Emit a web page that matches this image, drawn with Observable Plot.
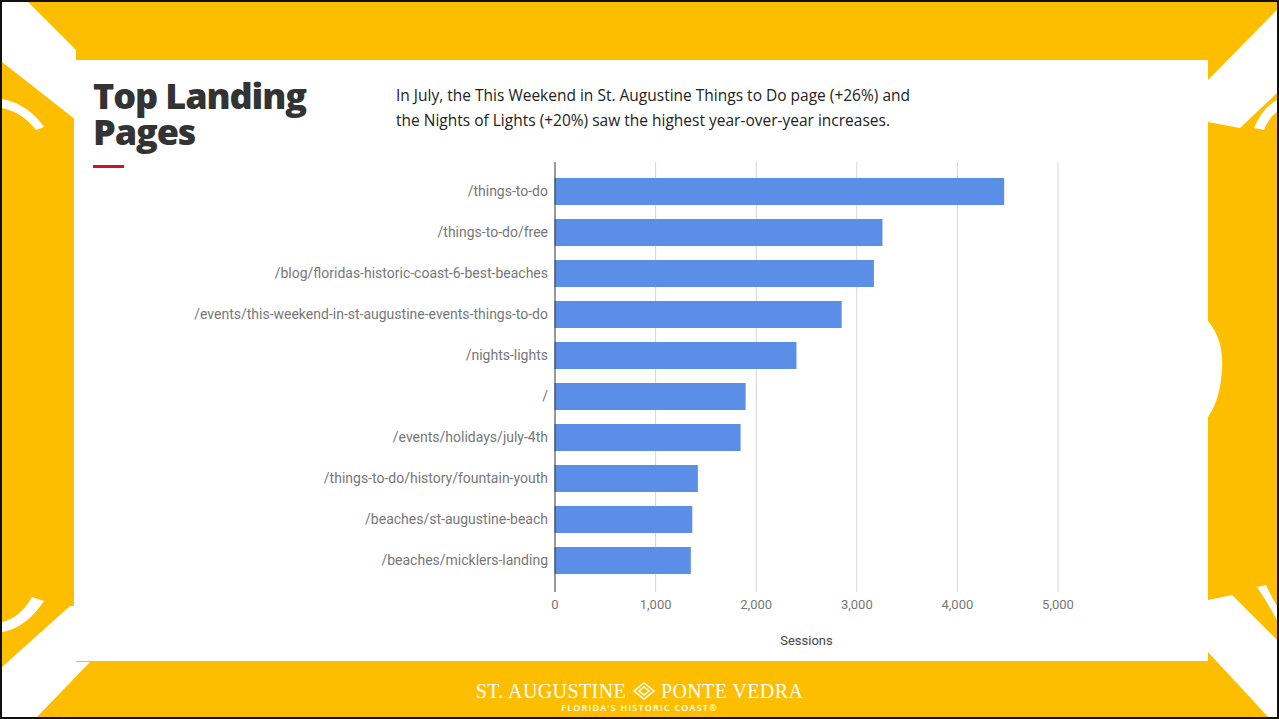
<!DOCTYPE html>
<html>
<head>
<meta charset="utf-8">
<script src="https://cdn.jsdelivr.net/npm/d3@7"></script>
<script src="https://cdn.jsdelivr.net/npm/@observablehq/plot@0.6"></script>
<style>
  html, body { margin: 0; padding: 0; background: #fff; }
  #frame { position: relative; width: 1279px; height: 719px; background: #FEBE00; box-sizing: border-box; border: 2px solid #111; overflow: hidden; }
  #deco { position: absolute; left: -2px; top: -2px; }
  #panel { position: absolute; left: 72px; top: 58px; width: 1134px; height: 601px; background: #fff; }
  .title { position: absolute; left: 91px; font-family: "Open Sans", sans-serif; font-weight: 800; font-size: 36px; line-height: 33px; height: 33px; color: #333; letter-spacing: -1.1px; white-space: nowrap; }
  #redbar { position: absolute; left: 91px; top: 163px; width: 31px; height: 3px; background: #d0112b; }
  #subtitle { position: absolute; left: 394px; top: 81px; font-family: "Open Sans", sans-serif; font-size: 15.5px; line-height: 25px; color: #222; white-space: nowrap; }
  #chart { position: absolute; left: 72px; top: 148px; }
  #logo1 { position: absolute; left: 0; width: 1275px; top: 678px; text-align: center; font-family: "Liberation Serif", serif; font-size: 20px; color: #fff; letter-spacing: 0.4px; }
  #logo2 { position: absolute; left: 0; width: 1275px; top: 699px; text-align: center; font-family: "Open Sans", sans-serif; font-size: 9px; font-weight: 600; color: #fff; letter-spacing: 1.2px; }
</style>
</head>
<body>
<div id="frame">
  <svg id="deco" width="1279" height="719">
    <g fill="#fff">
      <polygon points="2,2 28,2 76,50 76,120 2,62"/>
      <path d="M2,99 Q28,104 44,127 L36,130 Q22,112 2,108 Z"/>
      <polygon points="2,667 70,606 76,606 76,662 90,662 35,719 2,719"/>
      <path d="M2,632 Q26,628 44,601 L32,597 Q20,618 2,622 Z"/>
      <polygon points="1277,10 1277,93 1240,128 1208,122 1208,80"/>
      <path d="M1277,100 Q1262,108 1254,128 L1264,130 Q1270,116 1277,112 Z"/>
      <polygon points="1208,600 1232,595 1277,640 1277,719 1270,719 1208,652"/>
      <path d="M1277,620 Q1266,600 1257,587 L1266,585 Q1272,598 1277,606 Z"/>
      <path d="M1208,321 Q1224,340 1222,370 Q1220,400 1208,417 Z"/>
    </g>
  </svg>
  <div id="panel"></div>
  <div class="title" style="top:77px">Top Landing</div>
  <div class="title" style="top:113px">Pages</div>
  <div id="redbar"></div>
  <div id="subtitle">In July, the This Weekend in St. Augustine Things to Do page (+26%) and<br>the Nights of Lights (+20%) saw the highest year-over-year increases.</div>
  <div id="chart"></div>
  <div id="logo1">ST. AUGUSTINE <svg width="24" height="18" viewBox="0 0 24 18" style="vertical-align:-2px"><g fill="none" stroke="#fff" stroke-width="1.5"><polygon points="12,1 22,9 12,17 2,9"/><polygon points="12,5 17,9 12,13 7,9"/></g></svg> PONTE VEDRA</div>
  <div id="logo2">FLORIDA'S HISTORIC COAST®</div>
</div>
<script>
const pages = [
  "/things-to-do",
  "/things-to-do/free",
  "/blog/floridas-historic-coast-6-best-beaches",
  "/events/this-weekend-in-st-augustine-events-things-to-do",
  "/nights-lights",
  "/",
  "/events/holidays/july-4th",
  "/things-to-do/history/fountain-youth",
  "/beaches/st-augustine-beach",
  "/beaches/micklers-landing"
];
const sessions = [4470, 3260, 3175, 2855, 2405, 1900, 1850, 1425, 1370, 1355];
const xTicks = [0, 1000, 2000, 3000, 4000, 5000];
const axisTitle = "Sessions";

const data = pages.map((page, i) => ({page, sessions: sessions[i]}));

const chart = Plot.plot({
  width: 1100,
  height: 512,
  marginLeft: 480.5,
  marginRight: 116.5,
  marginTop: 12,
  marginBottom: 70,
  style: {fontFamily: "Roboto, sans-serif", fontSize: "13px", color: "#777", background: "transparent"},
  x: {domain: [0, 5000], ticks: xTicks, tickFormat: d3.format(","), tickSize: 0, tickPadding: 7, label: null},
  y: {domain: pages, paddingInner: 0.34, paddingOuter: 0.17, insetTop: 9.5, insetBottom: 10.5, tickSize: 0, tickPadding: 7, label: null, fontSize: 14},
  marks: [
    Plot.ruleX(xTicks.slice(1), {stroke: "#d6d6d6", strokeWidth: 1}),
    Plot.barX(data, {x: "sessions", y: "page", fill: "#5b8ee6"}),
    Plot.ruleX([0], {stroke: "#333", strokeWidth: 1}),
    Plot.text([axisTitle], {text: d => d, frameAnchor: "bottom", dy: 52, fill: "#444", fontSize: 13})
  ]
});
d3.select(chart).selectAll("g[aria-label='y-axis'] text, g[aria-label='y-axis tick label'] text").style("font-size", "14px");
document.getElementById("chart").appendChild(chart);
</script>
</body>
</html>
